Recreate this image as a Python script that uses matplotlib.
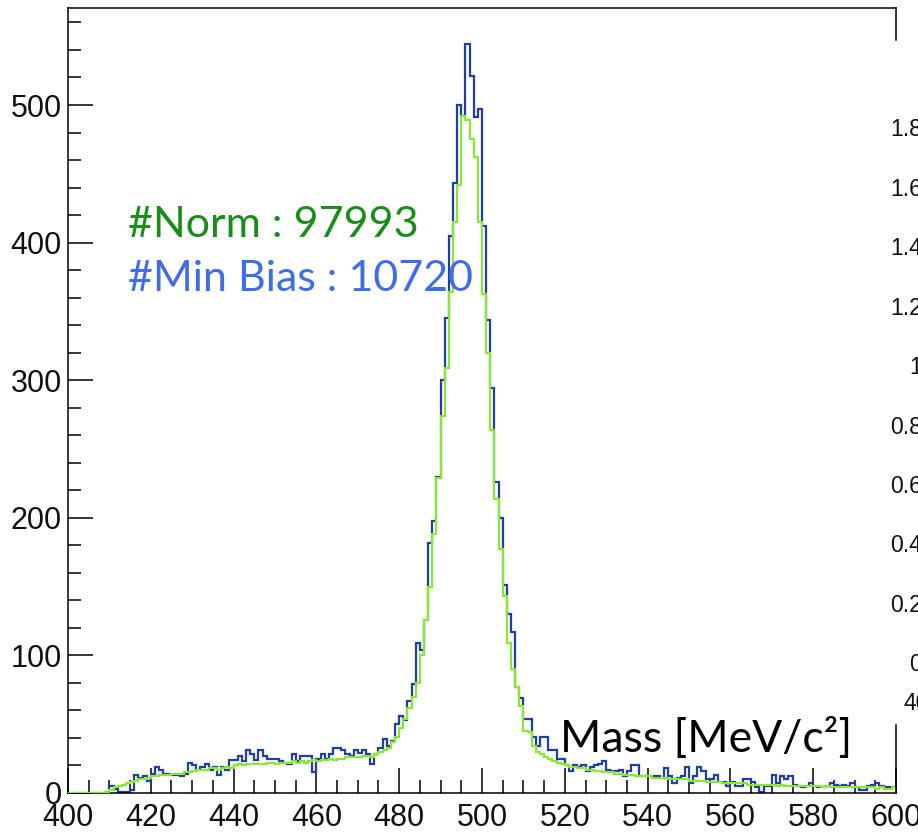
import numpy as np
import matplotlib
matplotlib.use("Agg")
import matplotlib.pyplot as plt
from matplotlib.ticker import MultipleLocator, FixedLocator
from matplotlib.lines import Line2D

# ---------------- data ----------------
mass_lo, mass_hi = 400, 600

min_bias = [
    0, 0, 0, 0, 0, 0, 0, 0, 0, 0,            # 400-409
    5, 3, 1, 1, 1, 2, 13, 11, 12, 9,         # 410-419
    14, 19, 17, 14, 14, 13, 13, 12, 14, 22,  # 420-429
    20, 17, 19, 21, 17, 19, 13, 19, 17, 24,  # 430-439
    24, 27, 23, 31, 28, 24, 31, 27, 25, 25,  # 440-449
    25, 23, 22, 21, 28, 23, 27, 27, 27, 15,  # 450-459
    25, 28, 25, 28, 33, 33, 31, 28, 27, 31,  # 460-469
    29, 31, 28, 21, 28, 33, 39, 34, 38, 50,  # 470-479
    56, 53, 67, 79, 109, 104, 126, 182, 198, 230,   # 480-489
    300, 345, 405, 443, 500, 492, 544, 521, 491, 497,  # 490-499
    412, 344, 294, 226, 200, 151, 130, 117, 77, 69,    # 500-509
    54, 54, 41, 34, 41, 41, 31, 31, 25, 25,  # 510-519
    20, 16, 20, 19, 20, 16, 19, 20, 21, 23,  # 520-529
    17, 16, 16, 17, 12, 16, 20, 20, 12, 12,  # 530-539
    12, 12, 12, 11, 18, 12, 7, 11, 12, 19,   # 540-549
    7, 12, 19, 16, 10, 10, 13, 8, 8, 5,      # 550-559
    8, 5, 5, 10, 10, 8, 4, 1, 5, 5,          # 560-569
    13, 7, 12, 10, 12, 6, 5, 4, 5, 7,        # 570-579
    5, 4, 4, 5, 7, 6, 5, 6, 5, 7,            # 580-589
    4, 2, 2, 5, 6, 7, 5, 4, 4, 4,            # 590-599
]

norm = [
    0, 0, 0, 0, 0, 0, 0, 0, 0, 1,            # 400-409
    2, 4, 5, 6, 7, 8, 9, 10, 10, 11,         # 410-419
    12, 12, 13, 13, 13, 14, 14, 14, 15, 15,  # 420-429
    16, 17, 17, 17, 18, 18, 17, 18, 19, 18,  # 430-439
    20, 21, 20, 21, 21, 21, 21, 21, 22, 22,  # 440-449
    21, 22, 22, 22, 23, 22, 23, 22, 23, 24,  # 450-459
    23, 24, 24, 25, 24, 25, 25, 26, 26, 26,  # 460-469
    26, 27, 27, 26, 28, 30, 31, 33, 37, 41,  # 470-479
    47, 54, 62, 70, 80, 100, 126, 150, 188, 229,      # 480-489
    274, 309, 364, 415, 442, 492, 489, 475, 462, 415,  # 490-499
    363, 320, 264, 214, 177, 143, 109, 90, 77, 63,     # 500-509
    45, 44, 34, 30, 28, 26, 25, 23, 22, 21,  # 510-519
    20, 19, 19, 18, 18, 17, 17, 16, 16, 15,  # 520-529
    15, 15, 14, 14, 13, 13, 13, 12, 12, 12,  # 530-539
    12, 11, 11, 11, 11, 10, 10, 10, 10, 10,  # 540-549
    9, 9, 9, 9, 8, 8, 8, 8, 7, 7,            # 550-559
    7, 7, 7, 7, 6, 6, 6, 6, 6, 6,            # 560-569
    6, 5, 6, 5, 5, 5, 5, 5, 5, 5,            # 570-579
    5, 5, 4, 5, 4, 4, 4, 4, 4, 4,            # 580-589
    4, 4, 4, 4, 4, 3, 4, 3, 3, 4,            # 590-599
]

norm_label = "#Norm : 97993"
minbias_label = "#Min Bias : 10720"
x_title = "Mass [MeV/c\u00b2]"
x_ticks = [400, 420, 440, 460, 480, 500, 520, 540, 560, 580, 600]
y_ticks = [0, 100, 200, 300, 400, 500]
y_max = 570.5
right_labels = ["1.8", "1.6", "1.4", "1.2", "1", "0.8", "0.6", "0.4", "0.2", "0"]
right_extra = "400"

# ---------------- figure ----------------
W, H = 918, 834
fig = plt.figure(figsize=(W / 100, H / 100), dpi=100)
fig.patch.set_facecolor("white")

x0, x1, yb, yt = 68, 896, 793, 8
ax = fig.add_axes([x0 / W, (H - yb) / H, (x1 - x0) / W, (yb - yt) / H])

edges = np.linspace(mass_lo, mass_hi, len(min_bias) + 1)
ax.stairs(min_bias, edges, color="#1f3fa5", lw=1.6, baseline=0, zorder=2)
ax.stairs(norm, edges, color="#86ea2a", lw=1.5, baseline=0, zorder=3)

ax.set_xlim(mass_lo, mass_hi)
ax.set_ylim(0, y_max)

ax.xaxis.set_major_locator(FixedLocator(x_ticks))
ax.xaxis.set_minor_locator(MultipleLocator(5))
ax.yaxis.set_major_locator(FixedLocator(y_ticks))
ax.yaxis.set_minor_locator(MultipleLocator(20))

tick_font = "Liberation Sans"
ax.tick_params(which="major", direction="in", length=18, width=1.1,
               labelsize=22, color="black")
ax.tick_params(which="minor", direction="in", length=9.4, width=1.1)
ax.tick_params(axis="x", which="major", pad=7)
ax.tick_params(axis="y", which="major", pad=4.5)
ax.tick_params(top=False, right=False, which="both")
for lab in ax.get_xticklabels() + ax.get_yticklabels():
    lab.set_fontfamily(tick_font)
    lab.set_color("#111111")

for s in ["left", "bottom", "top"]:
    ax.spines[s].set_linewidth(1.1)
    ax.spines[s].set_color("black")
ax.spines["right"].set_visible(False)

# partial right border (rest hidden by neighbouring panel)
fig.add_artist(Line2D([x1 / W, x1 / W], [(H - yt) / H, (H - 40) / H],
                      color="black", lw=1.1))
fig.add_artist(Line2D([x1 / W, x1 / W], [(H - 725) / H, (H - yb) / H],
                      color="black", lw=1.1))

# annotations
txt_font = ["Lato", "DejaVu Sans"]
fig.text(128 / W, 1 - 237 / H, norm_label, color="#1a8c1a", fontsize=31,
         family=txt_font, ha="left", va="baseline")
fig.text(128 / W, 1 - 291 / H, minbias_label, color="#3f6de8", fontsize=31,
         family=txt_font, ha="left", va="baseline")
fig.text(560 / W, 1 - 752 / H, x_title, color="black", fontsize=32,
         family=txt_font, ha="left", va="baseline")

# cropped labels of the neighbouring panel on the right
y0_lab, dy_lab = 130, 59.4
for i, lab in enumerate(right_labels):
    fig.text(922 / W, 1 - (y0_lab + i * dy_lab) / H, lab, fontsize=16.5,
             family=tick_font, color="#111111", ha="right", va="center")
fig.text(903 / W, 1 - 703 / H, right_extra, fontsize=16.5, family=tick_font,
         color="#111111", ha="left", va="center")

fig.savefig("out.png", dpi=100, facecolor="white")
